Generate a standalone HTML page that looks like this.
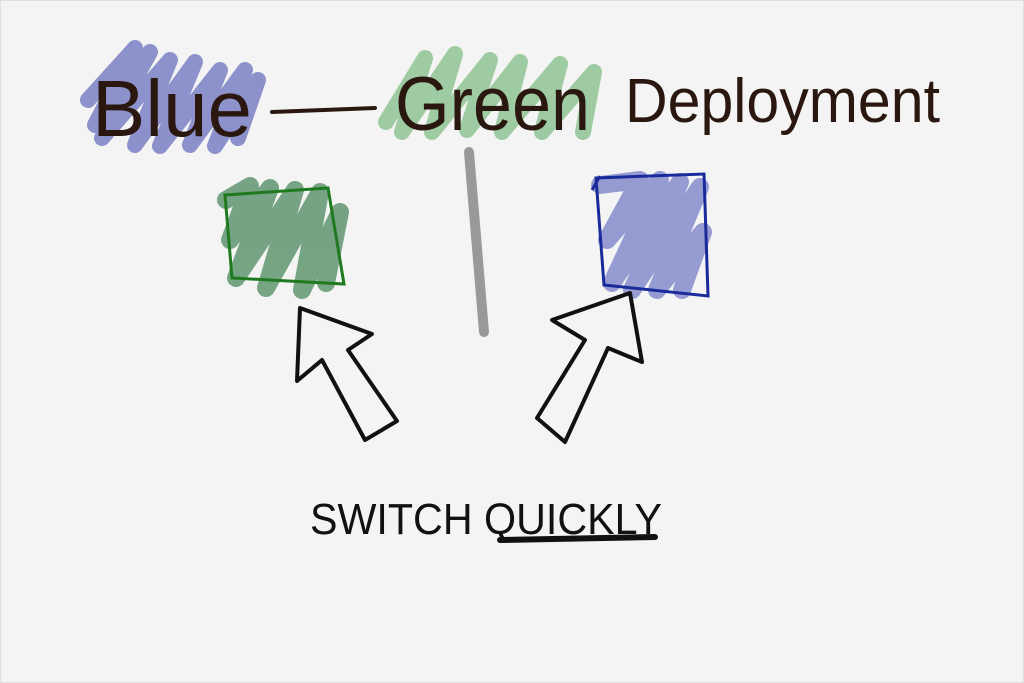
<!DOCTYPE html>
<html><head><meta charset="utf-8"><style>
html,body{margin:0;padding:0;background:#f4f4f4;}
svg{display:block}
</style></head><body>
<svg width="1024" height="683" viewBox="0 0 1024 683" xmlns="http://www.w3.org/2000/svg">
<rect x="0" y="0" width="1024" height="683" fill="#f4f4f4"/>
<rect x="0.5" y="0.5" width="1023" height="682" fill="none" stroke="#e0e0e0"/>
<g stroke-linejoin="round" stroke-linecap="round" fill="none" opacity="0.85">
<path d="M88,100 L135,48 L95,125 L150,52 L102,138 L170,60 L135,145 L195,62 L160,146 L220,70 L190,145 L245,70 L215,146 L258,80 L238,138" stroke="#7b80c4" stroke-width="16"/>
<path d="M386,122 L425,58 L402,132 L455,54 L432,132 L490,60 L467,130 L520,62 L502,132 L560,64 L542,132 L594,72 L583,132" stroke="#8fc393" stroke-width="16"/>
<path d="M226,200 L250,186 L230,240 L270,188 L236,278 L295,190 L266,288 L320,192 L302,290 L340,212 L326,283" stroke="#5f9670" stroke-width="18"/>
<path d="M600,185 L640,180 L607,240 L660,180 L612,283 L680,182 L632,290 L700,187 L657,290 L703,232 L682,290" stroke="#858ccb" stroke-width="18"/>
</g>
<g font-family="Liberation Sans, sans-serif" fill="#2a1810">
<text x="92" y="136" font-size="80" textLength="160" lengthAdjust="spacingAndGlyphs">Blue</text>
<text x="395" y="130" font-size="76" textLength="195" lengthAdjust="spacingAndGlyphs">Green</text>
<text x="625" y="122" font-size="62" textLength="315" lengthAdjust="spacingAndGlyphs">Deployment</text>
</g>
<path d="M272,112 L375,108" stroke="#2a1810" stroke-width="4" stroke-linecap="round"/>
<path d="M469,152 L478,260 L484,332" stroke="#999" stroke-width="10" fill="none" stroke-linecap="round"/>
<path d="M225,195 L328,188 L344,284 L232,278 Z" fill="none" stroke="#1f7a1f" stroke-width="3"/>
<path d="M596,178 L704,174 L708,296 L604,285 Z M592,190 L600,176" fill="none" stroke="#1a2a9a" stroke-width="3"/>
<g fill="#f4f4f4" stroke="#111" stroke-width="4" stroke-linejoin="round">
<path d="M300,308 L372,334 L348,350 L397,421 L365,440 L322,360 L297,381 Z"/>
<path d="M630,293 L642,362 L608,348 L565,442 L537,418 L585,340 L552,320 Z"/>
</g>
<text x="310" y="534" font-family="Liberation Sans, sans-serif" font-size="44" fill="#111" textLength="352" lengthAdjust="spacingAndGlyphs">SWITCH QUICKLY</text>
<path d="M500,540 L655,537" stroke="#111" stroke-width="6" stroke-linecap="round"/>
</svg>
</body></html>
